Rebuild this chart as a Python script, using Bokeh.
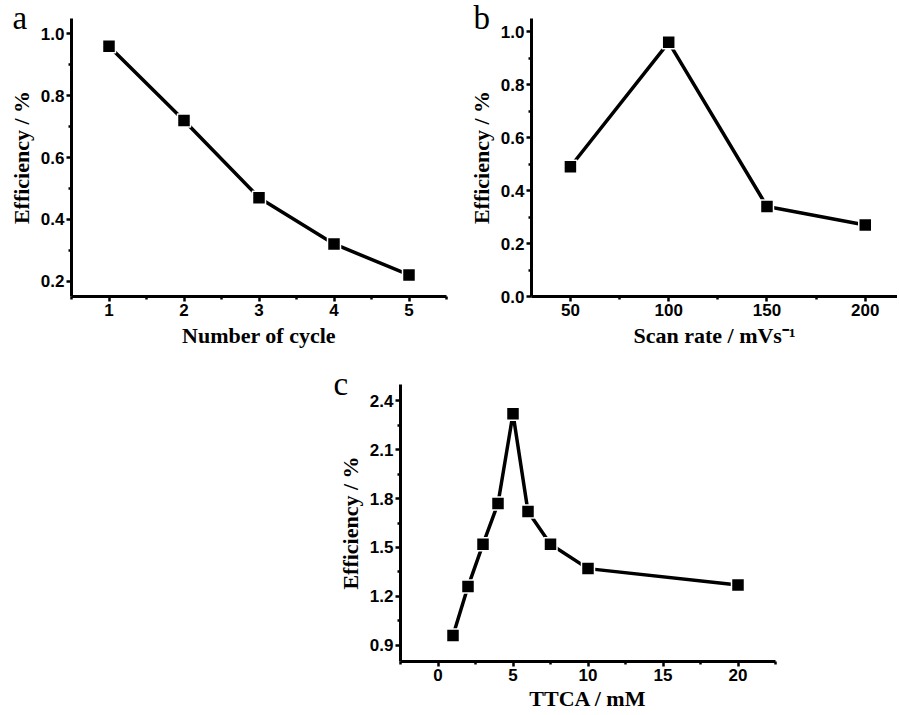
from bokeh.plotting import figure
from bokeh.models import FixedTicker, PrintfTickFormatter, Spacer
from bokeh.layouts import column, row
from bokeh.embed import file_html
from bokeh.resources import INLINE

# ---- data ----
cycle_n = [1, 2, 3, 4, 5]
cycle_eff = [0.96, 0.72, 0.47, 0.32, 0.22]

scan_rate = [50, 100, 150, 200]
scan_eff = [0.49, 0.96, 0.34, 0.27]

ttca_mM = [1, 2, 3, 4, 5, 6, 7.5, 10, 20]
ttca_eff = [0.96, 1.26, 1.52, 1.77, 2.32, 1.72, 1.52, 1.37, 1.27]

a_xticks = [1, 2, 3, 4, 5]
a_xminor = [0.5, 1.5, 2.5, 3.5, 4.5, 5.5]
a_yticks = [0.2, 0.4, 0.6, 0.8, 1.0]
a_yminor = [0.3, 0.5, 0.7, 0.9]

b_xticks = [50, 100, 150, 200]
b_xminor = [75, 125, 175]
b_yticks = [0.0, 0.2, 0.4, 0.6, 0.8, 1.0]
b_yminor = [0.1, 0.3, 0.5, 0.7, 0.9]

c_xticks = [0, 5, 10, 15, 20]
c_xminor = [-2.5, 2.5, 7.5, 12.5, 17.5, 22.5]
c_yticks = [0.9, 1.2, 1.5, 1.8, 2.1, 2.4]
c_yminor = [1.05, 1.35, 1.65, 1.95, 2.25]

SERIF = "Liberation Serif"
SANS = "Liberation Sans"


def style(p, xlabel, ylabel, xt, xm, yt, ym, xfmt, yfmt):
    p.xgrid.visible = False
    p.ygrid.visible = False
    p.outline_line_color = None
    p.background_fill_color = "white"
    p.border_fill_color = "white"
    for ax, lab, t, m, f in ((p.xaxis[0], xlabel, xt, xm, xfmt),
                             (p.yaxis[0], ylabel, yt, ym, yfmt)):
        ax.ticker = FixedTicker(ticks=t, minor_ticks=m)
        ax.formatter = PrintfTickFormatter(format=f)
        ax.axis_label = lab
        ax.axis_label_text_font = SERIF
        ax.axis_label_text_font_style = "bold"
        ax.axis_label_text_font_size = "22px"
        ax.axis_label_text_color = "black"
        ax.major_label_text_font = SANS
        ax.major_label_text_font_style = "bold"
        ax.major_label_text_font_size = "17px"
        ax.major_label_text_color = "black"
        ax.axis_line_width = 3
        ax.axis_line_color = "black"
        ax.major_tick_line_width = 2.5
        ax.major_tick_line_color = "black"
        ax.major_tick_out = 5
        ax.major_tick_in = 0
        ax.minor_tick_line_width = 2.5
        ax.minor_tick_line_color = "black"
        ax.minor_tick_out = 3
        ax.minor_tick_in = 0
        ax.major_label_standoff = 2
        ax.axis_label_standoff = 4


def draw(p, x, y):
    p.line(x, y, line_width=3.5, line_color="black")
    p.scatter(x, y, marker="square", size=13, fill_color="black",
              line_color="white", line_width=1.5)


def letter(p, txt, offset):
    # panel letter drawn as the figure title, pulled down beside the y axis top
    t = p.title
    t.text = txt
    t.align = "left"
    t.offset = offset
    t.standoff = -35
    t.vertical_align = "bottom"
    t.text_font = SERIF
    t.text_font_style = "normal"
    t.text_font_size = "33px"
    t.text_color = "black"


# ---- panel a ----
pa = figure(width=458, height=350, x_range=(0.5, 5.5), y_range=(0.15, 1.05),
            output_backend="svg", toolbar_location=None,
            min_border_left=71, min_border_right=12,
            min_border_top=18, min_border_bottom=54)
style(pa, "Number of cycle", "Efficiency / %", a_xticks, a_xminor,
      a_yticks, a_yminor, "%d", "%.1f")
draw(pa, cycle_n, cycle_eff)
letter(pa, "a", -59)

# ---- panel b ----
pb = figure(width=439, height=350, x_range=(30.2, 216.4), y_range=(0.0, 1.05),
            output_backend="svg", toolbar_location=None,
            min_border_left=73, min_border_right=0,
            min_border_top=18, min_border_bottom=54)
style(pb, "Scan rate / mVs\u207b\u00b9", "Efficiency / %", b_xticks, b_xminor,
      b_yticks, b_yminor, "%d", "%.1f")
draw(pb, scan_rate, scan_eff)
letter(pb, "b", -58)

# ---- panel c ----
pc = figure(width=475, height=363, x_range=(-2.5, 22.5), y_range=(0.8, 2.5),
            output_backend="svg", toolbar_location=None,
            min_border_left=80, min_border_right=20,
            min_border_top=34, min_border_bottom=51)
style(pc, "TTCA / mM", "Efficiency / %", c_xticks, c_xminor,
      c_yticks, c_yminor, "%d", "%.1f")
pc.xaxis[0].axis_label_standoff = 2
draw(pc, ttca_mM, ttca_eff)
letter(pc, "c", -67)

layout = column(row(pa, pb), row(Spacer(width=320, height=363), pc))

open("out.html", "w").write(file_html(layout, INLINE))
